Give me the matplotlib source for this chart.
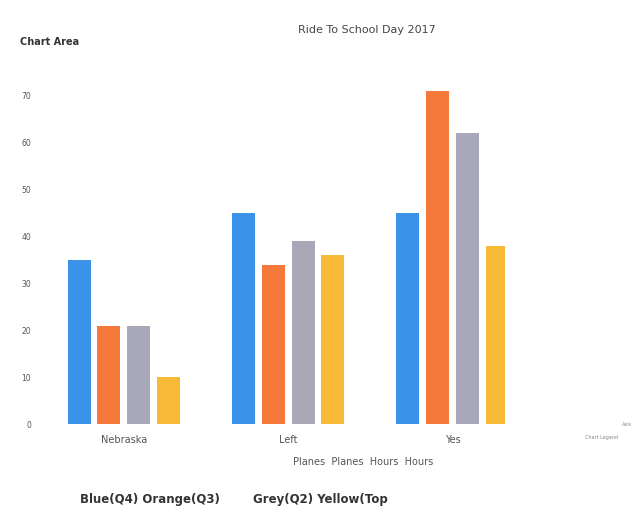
import matplotlib
matplotlib.use("Agg")
import matplotlib.pyplot as plt
import numpy as np

categories = ["Nebraska", "Left", "Yes"]
series_names = ["Planes", "Planes", "Hours", "Hours"]
series_values = [
    [35, 45, 45],
    [21, 34, 71],
    [21, 39, 62],
    [10, 36, 38],
]
colors = ["#3a93e8", "#f5793a", "#a8a8b8", "#f8b936"]
y_ticks = [0, 10, 20, 30, 40, 50, 60, 70]

fig = plt.figure(figsize=(6.39, 5.08), dpi=100)
ax = fig.add_axes([45/639, 1-424/508, 460/639, (424-77)/508])

x = np.arange(len(categories))
slot = 0.182
width = 0.14
for i, vals in enumerate(series_values):
    ax.bar(x + (i - 1.5) * slot, vals, width=width, color=colors[i], label=series_names[i])

ax.set_xlim(-0.48, 2.32)
ax.set_ylim(0, 74)
ax.set_yticks(y_ticks)
ax.set_yticklabels([str(t) for t in y_ticks], fontsize=5.5, color="#555555")
ax.set_xticks(x)
ax.set_xticklabels(categories, fontsize=7, color="#555555")
ax.tick_params(axis="y", length=0, pad=10)
ax.tick_params(axis="x", length=0, pad=8)
for s in ax.spines.values():
    s.set_visible(False)

fig.text(367/639, 1-30/508, "Ride To School Day 2017", ha="center", va="center", fontsize=8, color="#444444")
fig.text(20/639, 1-42/508, "Chart Area", ha="left", va="center", fontsize=7, fontweight="bold", color="#333333")
fig.text(363/639, 1-462/508, "  ".join(series_names), ha="center", va="center", fontsize=7, color="#555555")
fig.text(80/639, 1-500/508, "Blue(Q4) Orange(Q3)", ha="left", va="center",
         fontsize=8.5, fontweight="bold", color="#333333")
fig.text(253/639, 1-500/508, "Grey(Q2) Yellow(Top", ha="left", va="center",
         fontsize=8.5, fontweight="bold", color="#333333")
fig.text(622/639, 1-425/508, "Axis", ha="left", va="center", fontsize=3.5, color="#888888")
fig.text(585/639, 1-437/508, "Chart Legend", ha="left", va="center", fontsize=3.5, color="#888888")

fig.savefig("out.png", dpi=100, facecolor="white")
